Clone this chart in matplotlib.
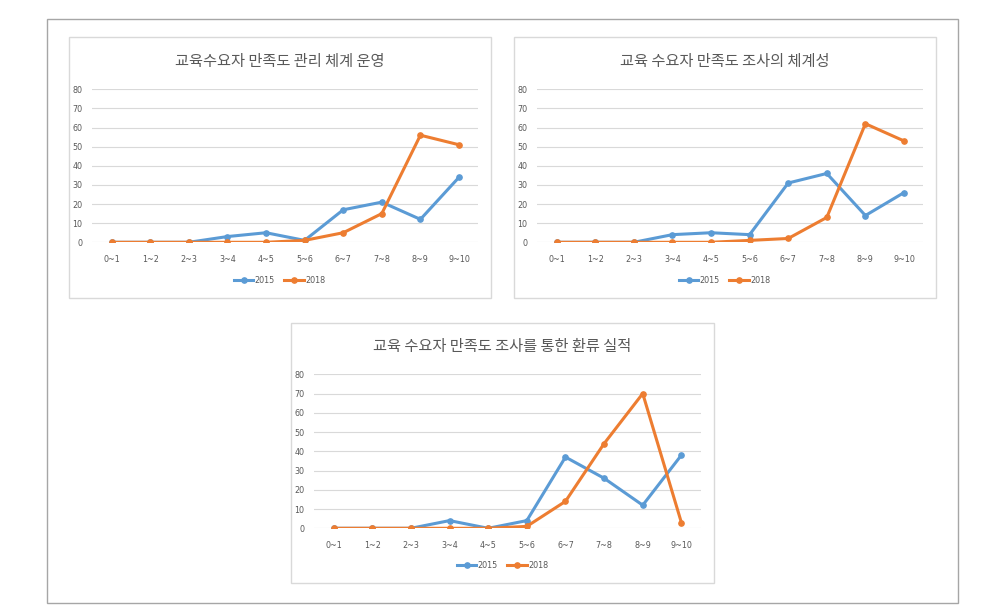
import matplotlib
matplotlib.use("Agg")
import matplotlib.pyplot as plt
from matplotlib.patches import Rectangle
from matplotlib import font_manager

categories = ["0~1", "1~2", "2~3", "3~4", "4~5", "5~6", "6~7", "7~8", "8~9", "9~10"]
titles = ["교육수요자 만족도 관리 체계 운영",
          "교육 수요자 만족도 조사의 체계성",
          "교육 수요자 만족도 조사를 통한 환류 실적"]
s2015_p1 = [0, 0, 0, 3, 5, 1, 17, 21, 12, 34]
s2018_p1 = [0, 0, 0, 0, 0, 1, 5, 15, 56, 51]
s2015_p2 = [0, 0, 0, 4, 5, 4, 31, 36, 14, 26]
s2018_p2 = [0, 0, 0, 0, 0, 1, 2, 13, 62, 53]
s2015_p3 = [0, 0, 0, 4, 0, 4, 37, 26, 12, 38]
s2018_p3 = [0, 0, 0, 0, 0, 1, 14, 44, 70, 3]
yticks = [0, 10, 20, 30, 40, 50, 60, 70, 80]

names = {f.name for f in font_manager.fontManager.ttflist}
tick_font = "Liberation Sans Narrow" if "Liberation Sans Narrow" in names else "DejaVu Sans"
tick_size = 7 if tick_font == "Liberation Sans Narrow" else 5.8

W, H = 984, 610
fig = plt.figure(figsize=(W / 100, H / 100), dpi=100)
fig.patch.set_facecolor("white")

def px_rect(x0, y0, x1, y1):
    return (x0 / W, 1 - y1 / H, (x1 - x0) / W, (y1 - y0) / H)

# outer border
l, b, w, h = px_rect(46.5, 18.5, 957.5, 602.5)
fig.patches.append(Rectangle((l, b), w, h, transform=fig.transFigure,
                             fill=False, edgecolor="#a6a6a6", linewidth=1.0))

panels = [
    dict(box=(68.5, 37.5, 490.5, 298), ax=(92.3, 89.3, 478.3, 242.3), title_y=61.5,
         legend_y=280, s15=s2015_p1, s18=s2018_p1, title=titles[0]),
    dict(box=(513.5, 37.5, 935.5, 298), ax=(537.3, 89.3, 923.3, 242.3), title_y=61.5,
         legend_y=280, s15=s2015_p2, s18=s2018_p2, title=titles[1]),
    dict(box=(291, 322.5, 714, 583), ax=(314.3, 374.3, 700.7, 528.3), title_y=346.5,
         legend_y=565, s15=s2015_p3, s18=s2018_p3, title=titles[2]),
]

c15 = "#5B9BD5"
c18 = "#ED7D31"
txt = "#595959"

for p in panels:
    bx = px_rect(*p["box"])
    fig.patches.append(Rectangle((bx[0], bx[1]), bx[2], bx[3], transform=fig.transFigure,
                                 fill=False, edgecolor="#d9d9d9", linewidth=1.0))
    ax = fig.add_axes(px_rect(*p["ax"]))
    x = list(range(len(categories)))
    ax.plot(x, p["s15"], color=c15, lw=2.2, marker="o", ms=3.8, label="2015", zorder=3)
    ax.plot(x, p["s18"], color=c18, lw=2.2, marker="o", ms=3.8, label="2018", zorder=4)
    ax.set_xlim(-0.5, len(categories) - 0.5)
    ax.set_ylim(0, 80)
    ax.set_yticks(yticks)
    ax.set_xticks(x)
    ax.set_xticklabels(categories)
    for s in ax.spines.values():
        s.set_visible(False)
    ax.grid(axis="y", color="#d9d9d9", lw=0.8)
    ax.set_axisbelow(True)
    ax.tick_params(length=0, colors=txt, labelsize=tick_size)
    ax.tick_params(axis="y", pad=7)
    ax.tick_params(axis="x", pad=9)
    for lab in ax.get_xticklabels() + ax.get_yticklabels():
        lab.set_fontfamily(tick_font)
    cx = (p["box"][0] + p["box"][2]) / 2 / W
    fig.text(cx, 1 - p["title_y"] / H, p["title"], ha="center", va="center",
             fontsize=11, color=txt, fontweight="light",
             family=["Noto Sans CJK KR", "DejaVu Sans"])
    leg = ax.legend(loc="center", bbox_to_anchor=(cx, 1 - p["legend_y"] / H),
                    bbox_transform=fig.transFigure, ncol=2, frameon=False,
                    handlelength=2.4, handletextpad=0.15, columnspacing=1.2,
                    prop={"family": tick_font, "size": tick_size})
    for t in leg.get_texts():
        t.set_color(txt)

fig.savefig("out.png", dpi=100, facecolor="white")
